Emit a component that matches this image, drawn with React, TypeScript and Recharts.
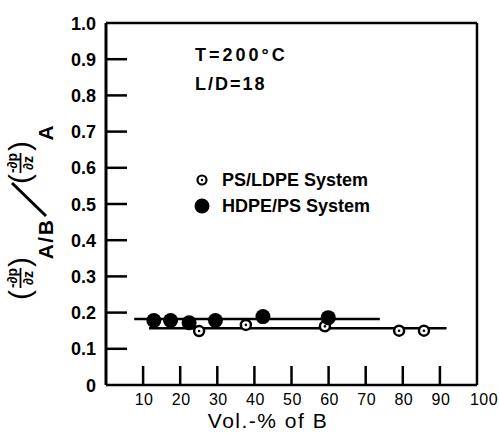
import React from 'react'
import { ScatterChart, Scatter, XAxis, YAxis, ReferenceLine, Legend, Customized } from 'recharts'

const FONT = '"Liberation Sans", Arial, sans-serif'

// axis ticks
const xTicks = [10, 20, 30, 40, 50, 60, 70, 80, 90, 100]
const yTicks = [0, 0.1, 0.2, 0.3, 0.4, 0.5, 0.6, 0.7, 0.8, 0.9, 1.0]

// PS/LDPE system (open circles)
const psLdpeVol = [25.1, 37.7, 59.0, 79.0, 85.7]
const psLdpeRatio = [0.149, 0.166, 0.162, 0.15, 0.15]
const psLdpeFitVol = [11.6, 91.8]
const psLdpeFitRatio = [0.157, 0.157]

// HDPE/PS system (filled circles)
const hdpePsVol = [12.9, 17.4, 22.4, 29.5, 42.3, 59.9]
const hdpePsRatio = [0.178, 0.178, 0.172, 0.178, 0.189, 0.186]
const hdpePsFitVol = [7.6, 73.8]
const hdpePsFitRatio = [0.182, 0.182]

const zip = (xs: number[], ys: number[]) => xs.map((x, i) => ({ x, y: ys[i] }))

const XTick = (props: any) => {
  const { x, y, payload } = props
  const v = payload.value
  return (
    <g>
      {v < 100 && <line x1={x} y1={y} x2={x} y2={y - 19} stroke="#000" strokeWidth={2.5} />}
      <text x={x + (v === 100 ? 7 : 1)} y={y + 20} textAnchor="middle" fontSize={16} fontFamily={FONT} fill="#000" letterSpacing={0.5}>
        {v}
      </text>
    </g>
  )
}

const YTick = (props: any) => {
  const { x, y, payload } = props
  const v = payload.value
  return (
    <g>
      {v > 0 && v < 1 && <line x1={x + 10} y1={y} x2={x + 31} y2={y} stroke="#000" strokeWidth={2.5} />}
      <text x={x} y={y + 6.5} textAnchor="end" fontSize={18} fontWeight="bold" fontFamily={FONT} fill="#000">
        {v === 0 ? '0' : v.toFixed(1)}
      </text>
    </g>
  )
}

const OpenDot = (props: any) => (
  <g>
    <circle cx={props.cx} cy={props.cy} r={5} fill="#fff" stroke="#000" strokeWidth={2.5} />
    <circle cx={props.cx} cy={props.cy} r={1.3} fill="#000" />
  </g>
)

const FilledDot = (props: any) => <circle cx={props.cx} cy={props.cy} r={7.5} fill="#000" />

const NoDot = () => <g />

const Frac = ({ u }: { u: number }) => (
  <g>
    <text x={u} y={17} fontSize={14} fontWeight="bold" textAnchor="middle">-∂p</text>
    <line x1={u - 10} y1={20.5} x2={u + 10} y2={20.5} stroke="#000" strokeWidth={1.8} />
    <text x={u} y={33} fontSize={14} fontWeight="bold" textAnchor="middle">∂z</text>
  </g>
)

// rotated y label: (-dp/dz)A/B / (-dp/dz)A
const YLabel = () => (
  <g transform="translate(0,300) rotate(-90)" fontFamily={FONT} fill="#000">
    <text x={5} y={30} fontSize={30} textAnchor="middle">(</text>
    <Frac u={22} />
    <text x={38} y={30} fontSize={30} textAnchor="middle">)</text>
    <text x={61} y={53} fontSize={21} fontWeight="bold" textAnchor="middle" letterSpacing={1.5}>A/B</text>
    <line x1={84} y1={46} x2={117} y2={12} stroke="#000" strokeWidth={3} />
    <text x={121} y={30} fontSize={30} textAnchor="middle">(</text>
    <Frac u={137} />
    <text x={154} y={30} fontSize={30} textAnchor="middle">)</text>
    <text x={167} y={53} fontSize={21} fontWeight="bold" textAnchor="middle">A</text>
  </g>
)

const Notes = () => (
  <g fontFamily={FONT} fontWeight="bold" fontSize={18} fill="#000">
    <text x={195} y={61} letterSpacing={3}>T=200°C</text>
    <text x={195} y={90} letterSpacing={2}>L/D=18</text>
    <text x={268} y={428} fontWeight="normal" fontSize={21} textAnchor="middle" letterSpacing={1.5}>Vol.-% of B</text>
  </g>
)

const LegendBox = () => (
  <div style={{ fontFamily: FONT, fontWeight: 'bold', fontSize: 18, color: '#000' }}>
    <div style={{ display: 'flex', alignItems: 'center', height: 26 }}>
      <svg width={16} height={16}>
        <circle cx={8} cy={8} r={4.5} fill="#fff" stroke="#000" strokeWidth={2.2} />
        <circle cx={8} cy={8} r={1.2} fill="#000" />
      </svg>
      <span style={{ marginLeft: 12 }}>PS/LDPE System</span>
    </div>
    <div style={{ display: 'flex', alignItems: 'center', height: 26 }}>
      <svg width={16} height={16}>
        <circle cx={8} cy={8} r={7.5} fill="#000" />
      </svg>
      <span style={{ marginLeft: 12 }}>HDPE/PS System</span>
    </div>
  </div>
)

export default function App() {
  return (
    <div style={{ position: 'absolute', left: 0, top: 0, width: 499, height: 433, background: '#fff' }}>
      <ScatterChart width={499} height={433} margin={{ top: 23, right: 22, bottom: 0, left: 0 }}>
        <XAxis type="number" dataKey="x" domain={[0, 100]} ticks={xTicks} interval={0} height={48}
          tickSize={0} tickMargin={0} tick={<XTick />} axisLine={{ stroke: '#000', strokeWidth: 2.5 }} />
        <YAxis type="number" dataKey="y" domain={[0, 1]} ticks={yTicks} interval={0} width={106}
          tickSize={0} tickMargin={10} tick={<YTick />} axisLine={{ stroke: '#000', strokeWidth: 3 }} />
        <ReferenceLine y={1} stroke="#000" strokeWidth={2.5} />
        <ReferenceLine x={100} stroke="#000" strokeWidth={2.5} />
        <Scatter data={zip(hdpePsFitVol, hdpePsFitRatio)} line={{ stroke: '#000', strokeWidth: 2.5 }} shape={<NoDot />} legendType="none" isAnimationActive={false} />
        <Scatter data={zip(psLdpeFitVol, psLdpeFitRatio)} line={{ stroke: '#000', strokeWidth: 2.5 }} shape={<NoDot />} legendType="none" isAnimationActive={false} />
        <Scatter name="PS/LDPE System" data={zip(psLdpeVol, psLdpeRatio)} shape={<OpenDot />} isAnimationActive={false} />
        <Scatter name="HDPE/PS System" data={zip(hdpePsVol, hdpePsRatio)} shape={<FilledDot />} isAnimationActive={false} />
        <Legend content={<LegendBox />} layout="vertical" verticalAlign="middle" align="center"
          wrapperStyle={{ left: 194, top: 167, width: 220 }} />
        <Customized component={<YLabel />} />
        <Customized component={<Notes />} />
      </ScatterChart>
    </div>
  )
}
